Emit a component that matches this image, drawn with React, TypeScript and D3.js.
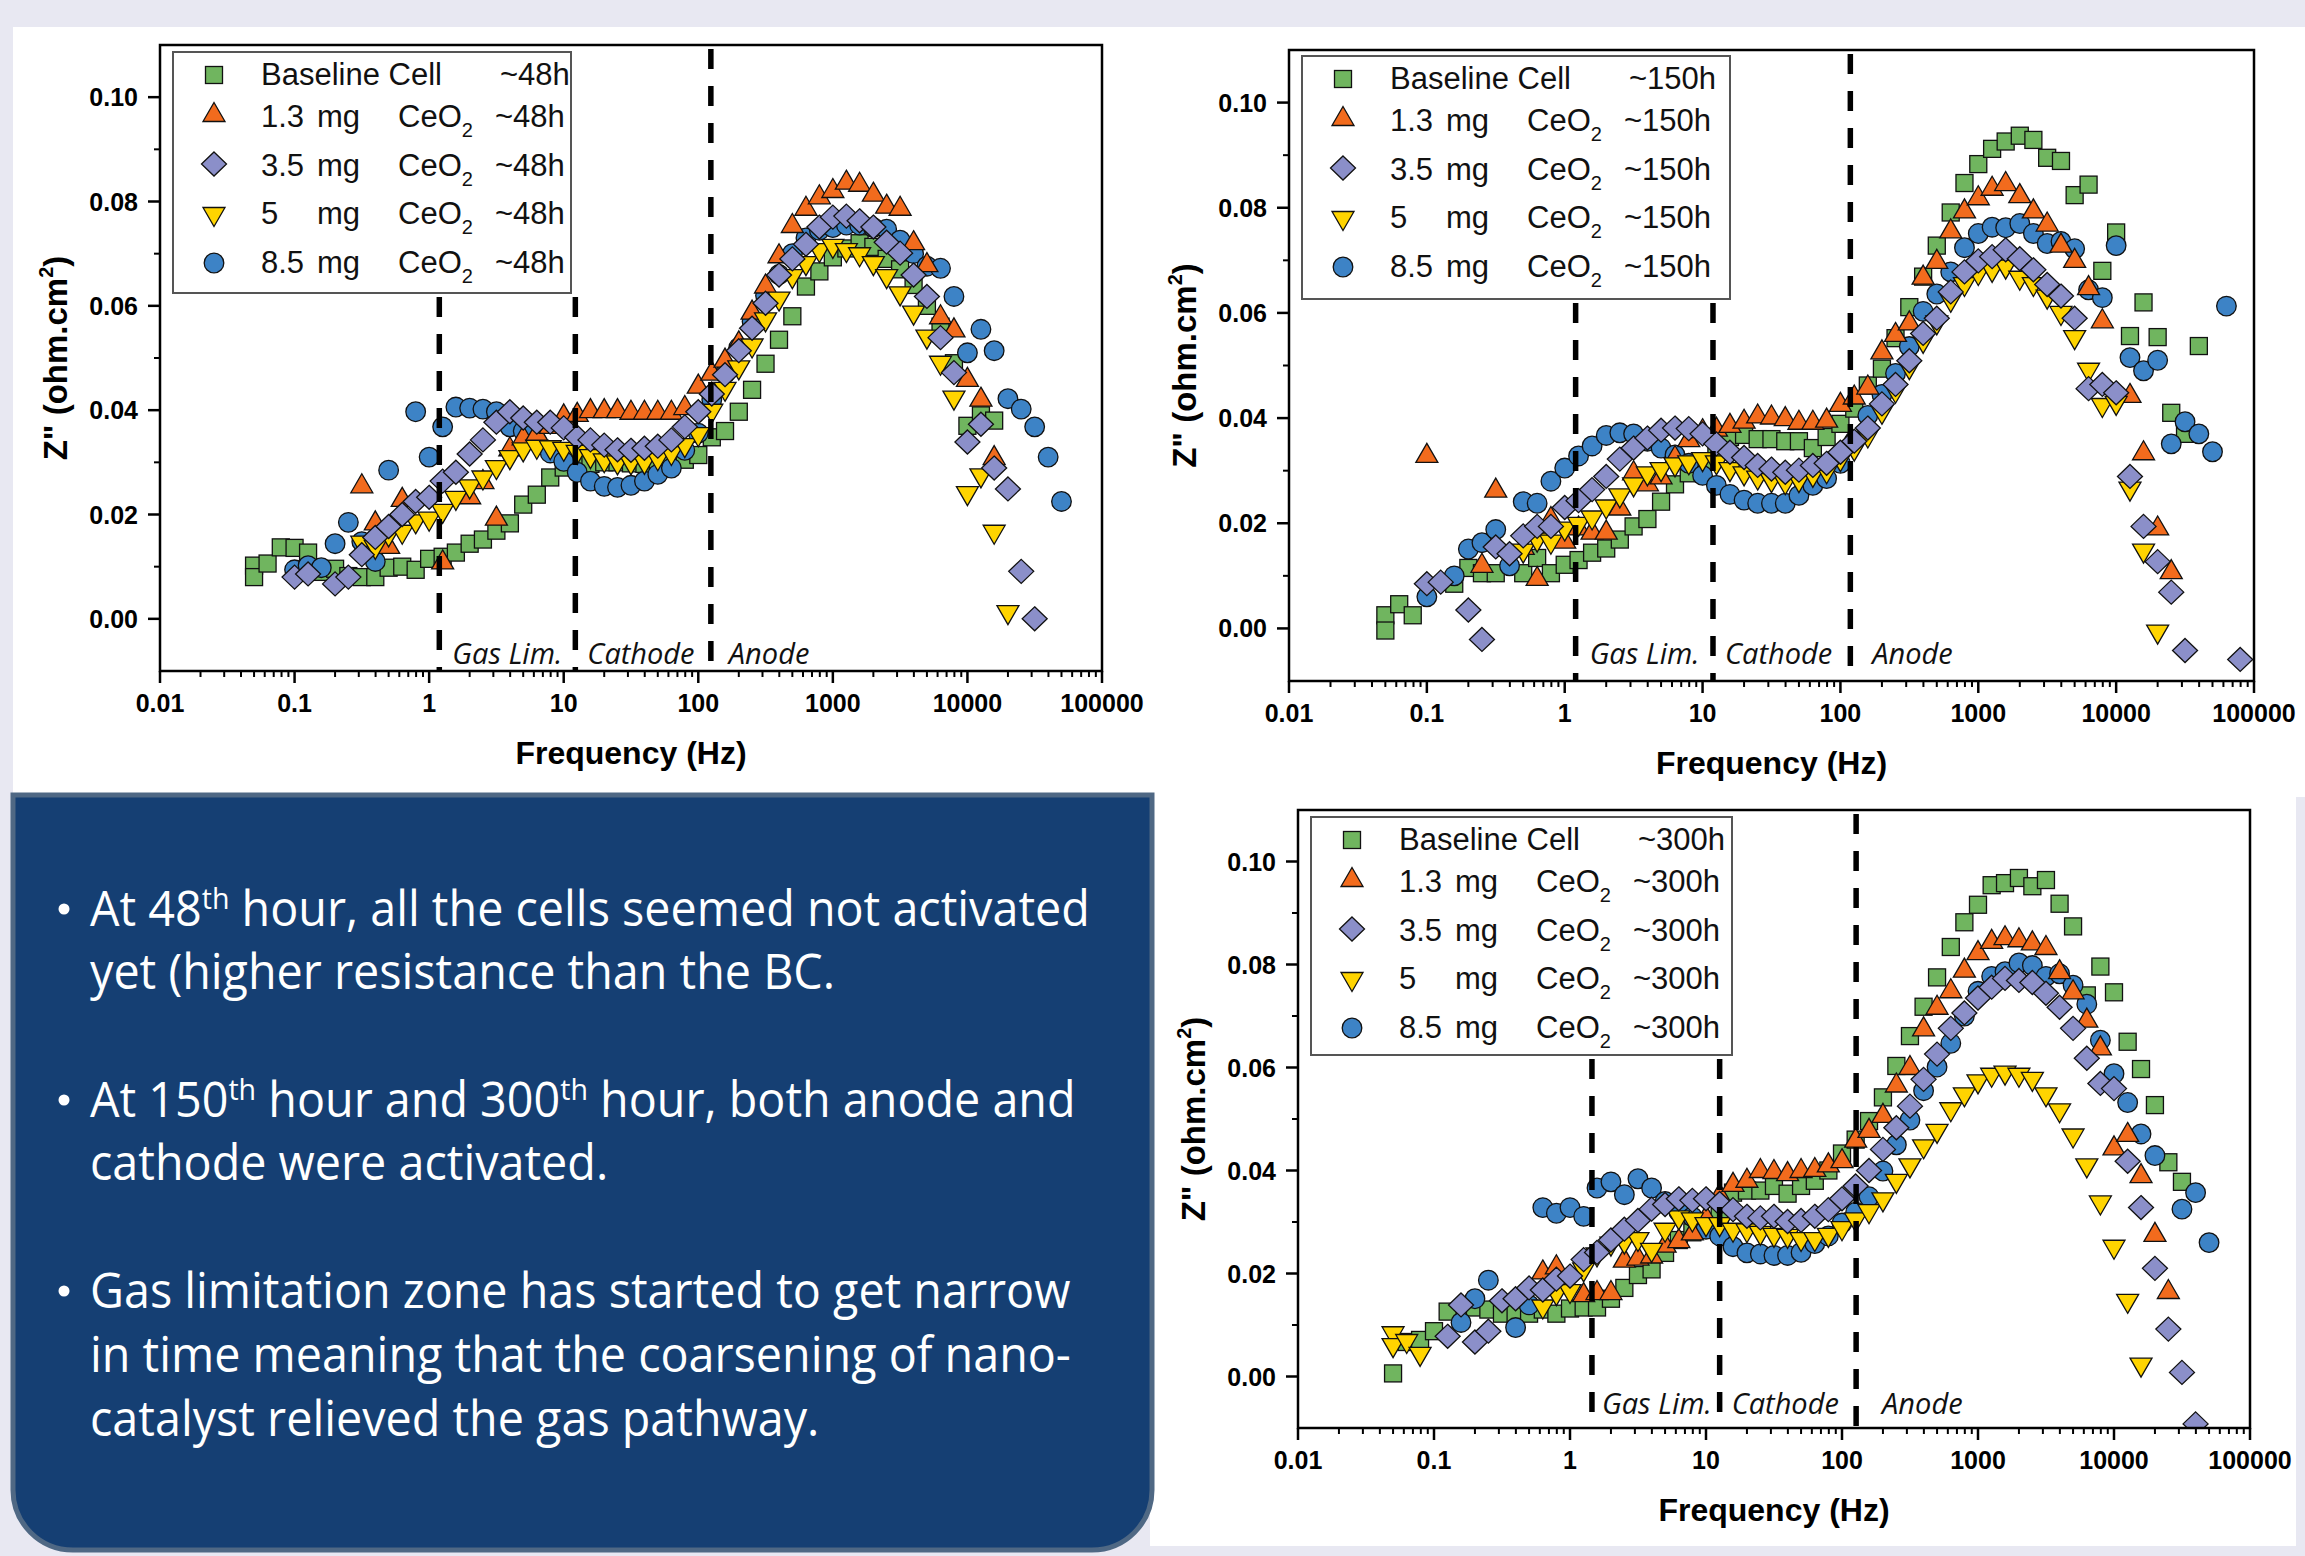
import React from 'react'
import * as d3 from 'd3'

type Pt = [number, number]

// axis ticks
const freqTicks = [0.01, 0.1, 1, 10, 100, 1000, 10000, 100000]
const freqTickLabels = ['0.01', '0.1', '1', '10', '100', '1000', '10000', '100000']
const zTicks = [0, 0.02, 0.04, 0.06, 0.08, 0.1]
const zTickLabels = ['0.00', '0.02', '0.04', '0.06', '0.08', '0.10']
const zMinorTicks = [0.01, 0.03, 0.05, 0.07, 0.09]

const cellLabels = ['Baseline Cell', '1.3', '3.5', '5', '8.5']
const zoneLabels = ['Gas Lim.', 'Cathode', 'Anode']

// zone boundaries (Hz)
const zones48 = [1.19, 12.2, 124]
const zones150 = [1.2, 11.9, 118]
const zones300 = [1.45, 12.6, 127]

// ~48h
const bc48: Pt[] = [[0.05,0.0102],[0.05,0.008],[0.063,0.0106],[0.079,0.0137],[0.1,0.0136],[0.126,0.0127],[0.158,0.009],[0.2,0.0096],[0.251,0.0082],[0.316,0.008],[0.398,0.008],[0.5,0.0098],[0.631,0.01],[0.794,0.0094],[1,0.0115],[1.26,0.0119],[1.58,0.0127],[2,0.0144],[2.51,0.0152],[3.16,0.0169],[3.98,0.0183],[5,0.0219],[6.31,0.0238],[7.94,0.0271],[10,0.029],[12.6,0.0295],[15.8,0.0297],[20,0.03],[25.1,0.03],[31.6,0.0298],[39.8,0.0297],[50,0.0298],[63.1,0.03],[79.4,0.0305],[100,0.0314],[126,0.0348],[158,0.036],[200,0.0397],[251,0.0439],[316,0.0489],[398,0.0535],[500,0.058],[631,0.0637],[794,0.0666],[1000,0.0693],[1260,0.071],[1580,0.072],[2000,0.0713],[2510,0.069],[3160,0.067],[3980,0.064],[5000,0.06],[6310,0.056],[7940,0.049],[10000,0.037],[12600,0.039],[15800,0.038]]
const m13_48: Pt[] = [[0.316,0.0256],[0.398,0.0185],[0.5,0.014],[0.631,0.023],[1.26,0.011],[2,0.0235],[2.51,0.0264],[3.16,0.0194],[3.98,0.0327],[5,0.0348],[6.31,0.0356],[7.94,0.037],[10,0.039],[12.6,0.0393],[15.8,0.04],[20,0.04],[25.1,0.04],[31.6,0.0397],[39.8,0.0397],[50,0.0397],[63.1,0.0397],[79.4,0.0406],[100,0.0447],[126,0.0472],[158,0.0497],[200,0.053],[251,0.0589],[316,0.0639],[398,0.0697],[500,0.0755],[631,0.0788],[794,0.081],[1000,0.0822],[1260,0.0838],[1580,0.0834],[2000,0.0815],[2510,0.0792],[3160,0.0788],[3980,0.0722],[5000,0.068],[6310,0.058],[7940,0.0555],[10000,0.046],[12600,0.0422],[15800,0.031]]
const m35_48: Pt[] = [[0.1,0.008],[0.126,0.0086],[0.2,0.0067],[0.251,0.008],[0.316,0.0123],[0.398,0.0156],[0.5,0.0177],[0.631,0.02],[0.794,0.0225],[1,0.0233],[1.26,0.0264],[1.58,0.0281],[2,0.0316],[2.51,0.0343],[3.16,0.0377],[3.98,0.0397],[5,0.0385],[6.31,0.0377],[7.94,0.0377],[10,0.0366],[12.6,0.0348],[15.8,0.0343],[20,0.0333],[25.1,0.0324],[31.6,0.0323],[39.8,0.0327],[50,0.0331],[63.1,0.0343],[79.4,0.0368],[100,0.0397],[126,0.0431],[158,0.0468],[200,0.0514],[251,0.0557],[316,0.0605],[398,0.0659],[500,0.069],[631,0.0718],[794,0.0751],[1000,0.077],[1260,0.0772],[1580,0.0763],[2000,0.0751],[2510,0.0722],[3160,0.0701],[3980,0.0659],[5000,0.0618],[6310,0.0539],[7940,0.0472],[10000,0.0339],[12600,0.0373],[15800,0.0289],[20000,0.0249],[25100,0.0091],[31600,0.0]]
const m5_48: Pt[] = [[0.316,0.0144],[0.398,0.0136],[0.5,0.016],[0.631,0.0165],[0.794,0.0185],[1,0.019],[1.26,0.0205],[1.58,0.023],[2,0.0252],[2.51,0.0269],[3.16,0.0289],[3.98,0.0308],[5,0.0323],[6.31,0.0328],[7.94,0.0327],[10,0.0324],[12.6,0.0318],[15.8,0.031],[20,0.0302],[25.1,0.0298],[31.6,0.0298],[39.8,0.0299],[50,0.0306],[63.1,0.0316],[79.4,0.0331],[100,0.0352],[126,0.0397],[158,0.0439],[200,0.048],[251,0.0522],[316,0.0572],[398,0.0612],[500,0.0655],[631,0.068],[794,0.0705],[1000,0.0713],[1260,0.0705],[1580,0.0697],[2000,0.068],[2510,0.0655],[3160,0.0622],[3980,0.0585],[5000,0.0539],[6310,0.0489],[7940,0.0422],[10000,0.0239],[12600,0.0273],[15800,0.0165],[20000,0.0011]]
const m85_48: Pt[] = [[0.1,0.0094],[0.126,0.0102],[0.158,0.0098],[0.2,0.0144],[0.251,0.0185],[0.316,0.0148],[0.398,0.011],[0.5,0.0285],[0.794,0.0397],[1,0.031],[1.26,0.0368],[1.58,0.0406],[2,0.0404],[2.51,0.0402],[3.16,0.0397],[3.98,0.0368],[5,0.036],[6.31,0.034],[7.94,0.0318],[10,0.0302],[12.6,0.0281],[15.8,0.0264],[20,0.0254],[25.1,0.0252],[31.6,0.0256],[39.8,0.0264],[50,0.0277],[63.1,0.0289],[79.4,0.0323],[100,0.0356],[126,0.042],[158,0.047],[200,0.052],[251,0.057],[316,0.062],[398,0.066],[500,0.07],[631,0.073],[794,0.0745],[1000,0.075],[1260,0.0755],[1580,0.0755],[2000,0.075],[2510,0.0747],[3160,0.0726],[3980,0.07],[5000,0.0676],[6310,0.0672],[7940,0.0618],[10000,0.051],[12600,0.0555],[15800,0.0514],[20000,0.0422],[25100,0.0402],[31600,0.0368],[39800,0.031],[50000,0.0225]]

// ~150h
const bc150: Pt[] = [[0.05,0.0025],[0.05,-0.0004],[0.063,0.0046],[0.079,0.0025],[0.158,0.0085],[0.2,0.0115],[0.251,0.0105],[0.316,0.0105],[0.5,0.0105],[0.631,0.0134],[0.794,0.0105],[1,0.0121],[1.26,0.013],[1.58,0.0144],[2,0.0152],[2.51,0.0169],[3.16,0.0194],[3.98,0.0208],[5,0.0241],[6.31,0.0274],[7.94,0.0295],[10,0.031],[12.6,0.034],[15.8,0.0364],[20,0.0368],[25.1,0.036],[31.6,0.036],[39.8,0.0356],[50,0.0356],[63.1,0.0343],[79.4,0.0364],[100,0.0389],[126,0.0418],[158,0.0462],[200,0.0494],[251,0.0552],[316,0.0611],[398,0.0669],[500,0.0728],[631,0.0791],[794,0.0847],[1000,0.0883],[1260,0.0912],[1580,0.0926],[2000,0.0937],[2510,0.0929],[3160,0.0895],[3980,0.0889],[5000,0.0824],[6310,0.0844],[7940,0.068],[10000,0.0753],[12600,0.0556],[15800,0.062],[20000,0.0554],[25100,0.041],[31600,0.037],[39800,0.0537]]
const m13_150: Pt[] = [[0.1,0.033],[0.251,0.0121],[0.316,0.0264],[0.5,0.0155],[0.631,0.0096],[0.794,0.021],[1,0.0167],[1.26,0.0192],[1.58,0.0184],[2,0.0184],[2.51,0.023],[3.16,0.0297],[3.98,0.0276],[5,0.0289],[6.31,0.0326],[7.94,0.036],[10,0.0377],[12.6,0.038],[15.8,0.0387],[20,0.0395],[25.1,0.0405],[31.6,0.0403],[39.8,0.04],[50,0.0393],[63.1,0.0393],[79.4,0.0397],[100,0.0427],[126,0.0441],[158,0.046],[200,0.0527],[251,0.056],[316,0.0582],[398,0.0669],[500,0.0699],[631,0.0757],[794,0.0795],[1000,0.082],[1260,0.0838],[1580,0.0847],[2000,0.0824],[2510,0.0795],[3160,0.077],[3980,0.073],[5000,0.0701],[6310,0.0649],[7940,0.0586],[12600,0.0444],[15800,0.0335],[20000,0.0192],[25100,0.0109]]
const m35_150: Pt[] = [[0.1,0.0085],[0.126,0.0088],[0.2,0.0035],[0.251,-0.0021],[0.316,0.0155],[0.398,0.0142],[0.5,0.0176],[0.631,0.0194],[0.794,0.0194],[1,0.023],[1.26,0.0243],[1.58,0.0264],[2,0.0289],[2.51,0.0322],[3.16,0.0343],[3.98,0.0362],[5,0.0377],[6.31,0.0381],[7.94,0.038],[10,0.037],[12.6,0.0351],[15.8,0.0335],[20,0.0325],[25.1,0.031],[31.6,0.0303],[39.8,0.0297],[50,0.0301],[63.1,0.031],[79.4,0.0314],[100,0.0335],[126,0.0356],[158,0.0381],[200,0.0427],[251,0.0464],[316,0.0509],[398,0.0561],[500,0.059],[631,0.064],[794,0.0678],[1000,0.0699],[1260,0.0707],[1580,0.072],[2000,0.0703],[2510,0.0682],[3160,0.0654],[3980,0.0632],[5000,0.059],[6310,0.0456],[7940,0.0464],[10000,0.0448],[12600,0.0289],[15800,0.0194],[20000,0.0127],[25100,0.0069],[31600,-0.0042],[79400,-0.0059]]
const m5_150: Pt[] = [[0.5,0.0146],[0.631,0.0167],[0.794,0.0163],[1,0.0188],[1.26,0.0197],[1.58,0.0209],[2,0.023],[2.51,0.0251],[3.16,0.0272],[3.98,0.0293],[5,0.0301],[6.31,0.031],[7.94,0.0314],[10,0.032],[12.6,0.0314],[15.8,0.0301],[20,0.0293],[25.1,0.0285],[31.6,0.028],[39.8,0.0276],[50,0.028],[63.1,0.029],[79.4,0.0297],[100,0.032],[126,0.034],[158,0.0365],[200,0.041],[251,0.045],[316,0.0495],[398,0.0545],[500,0.058],[631,0.0623],[794,0.0653],[1000,0.0674],[1260,0.068],[1580,0.0686],[2000,0.0665],[2510,0.0653],[3160,0.0629],[3980,0.0598],[5000,0.0552],[6310,0.049],[7940,0.0423],[10000,0.0427],[12600,0.0264],[15800,0.0146],[20000,-0.0008]]
const m85_150: Pt[] = [[0.1,0.006],[0.158,0.01],[0.2,0.0151],[0.251,0.0163],[0.316,0.0188],[0.398,0.0119],[0.5,0.0241],[0.631,0.0238],[0.794,0.028],[1,0.0305],[1.26,0.0328],[1.58,0.0347],[2,0.0367],[2.51,0.0372],[3.16,0.037],[3.98,0.0356],[5,0.0343],[6.31,0.033],[7.94,0.0314],[10,0.0291],[12.6,0.0272],[15.8,0.0255],[20,0.0244],[25.1,0.0238],[31.6,0.0238],[39.8,0.0238],[50,0.0253],[63.1,0.0272],[79.4,0.0285],[100,0.0314],[126,0.0356],[158,0.0405],[200,0.0445],[251,0.0485],[316,0.0536],[398,0.0603],[500,0.0636],[631,0.0678],[794,0.0724],[1000,0.0751],[1260,0.0763],[1580,0.0762],[2000,0.077],[2510,0.0751],[3160,0.0732],[3980,0.0736],[5000,0.0722],[6310,0.0644],[7940,0.0629],[10000,0.0728],[12600,0.0515],[15800,0.049],[20000,0.051],[25100,0.0351],[31600,0.0393],[39800,0.037],[50000,0.0336],[63100,0.0613]]

// ~300h
const bc300: Pt[] = [[0.05,0.0006],[0.063,0.0067],[0.079,0.0071],[0.1,0.0088],[0.126,0.0126],[0.2,0.0134],[0.251,0.013],[0.316,0.0122],[0.398,0.0122],[0.5,0.0122],[0.631,0.013],[0.794,0.0122],[1,0.0132],[1.26,0.0134],[1.58,0.0134],[2,0.0151],[2.51,0.0172],[3.16,0.0197],[3.98,0.0208],[5,0.024],[6.31,0.0265],[7.94,0.028],[10,0.029],[12.6,0.031],[15.8,0.0357],[20,0.0361],[25.1,0.0361],[31.6,0.037],[39.8,0.0355],[50,0.037],[63.1,0.038],[79.4,0.04],[100,0.0433],[126,0.046],[158,0.0496],[200,0.0542],[251,0.0603],[316,0.0661],[398,0.0718],[500,0.0775],[631,0.0834],[794,0.0882],[1000,0.0916],[1260,0.0954],[1580,0.0958],[2000,0.0968],[2510,0.0952],[3160,0.0964],[3980,0.0918],[5000,0.0874],[6310,0.074],[7940,0.0796],[10000,0.0746],[12600,0.065],[15800,0.0597],[20000,0.0527],[25100,0.0416],[31600,0.0378]]
const m13_300: Pt[] = [[0.631,0.0204],[0.794,0.0214],[1.26,0.016],[1.58,0.0164],[2,0.0164],[2.51,0.0227],[3.16,0.0231],[3.98,0.0235],[5,0.0256],[6.31,0.0265],[7.94,0.028],[10,0.031],[12.6,0.0353],[15.8,0.0374],[20,0.0382],[25.1,0.0401],[31.6,0.0399],[39.8,0.0395],[50,0.0401],[63.1,0.0403],[79.4,0.0412],[100,0.042],[126,0.046],[158,0.0479],[200,0.0508],[251,0.0567],[316,0.0601],[398,0.0676],[500,0.0718],[631,0.075],[794,0.079],[1000,0.0824],[1260,0.0846],[1580,0.0853],[2000,0.0849],[2510,0.0843],[3160,0.0834],[3980,0.0787],[5000,0.0748],[6310,0.0693],[7940,0.0639],[10000,0.0445],[12600,0.0471],[15800,0.0391],[20000,0.0277],[25100,0.0166]]
const m35_300: Pt[] = [[0.126,0.0078],[0.158,0.0139],[0.2,0.0067],[0.251,0.0088],[0.316,0.0147],[0.398,0.0151],[0.5,0.0172],[0.631,0.0168],[0.794,0.0189],[1,0.0195],[1.26,0.0227],[1.58,0.0241],[2,0.0265],[2.51,0.0286],[3.16,0.0303],[3.98,0.0325],[5,0.0334],[6.31,0.0345],[7.94,0.0342],[10,0.0345],[12.6,0.0336],[15.8,0.0324],[20,0.0311],[25.1,0.0308],[31.6,0.0311],[39.8,0.0301],[50,0.0303],[63.1,0.0311],[79.4,0.0324],[100,0.0345],[126,0.037],[158,0.04],[200,0.0441],[251,0.0483],[316,0.0525],[398,0.0577],[500,0.0626],[631,0.0676],[794,0.0706],[1000,0.0735],[1260,0.0756],[1580,0.0773],[2000,0.0769],[2510,0.0765],[3160,0.0744],[3980,0.0717],[5000,0.0676],[6310,0.0618],[7940,0.0569],[10000,0.0559],[12600,0.0418],[15800,0.0328],[20000,0.021],[25100,0.0092],[31600,0.0008],[39800,-0.0092]]
const m5_300: Pt[] = [[0.05,0.0082],[0.05,0.0059],[0.063,0.0067],[0.079,0.0042],[0.631,0.0134],[0.794,0.016],[1,0.0164],[1.26,0.0206],[1.58,0.0235],[2,0.0256],[2.51,0.026],[3.16,0.0265],[3.98,0.0244],[5,0.0283],[6.31,0.0307],[7.94,0.0303],[10,0.0294],[12.6,0.0294],[15.8,0.0283],[20,0.0282],[25.1,0.0277],[31.6,0.0273],[39.8,0.0271],[50,0.0265],[63.1,0.0265],[79.4,0.0273],[100,0.0286],[126,0.0303],[158,0.0319],[200,0.0342],[251,0.0378],[316,0.0408],[398,0.0445],[500,0.0475],[631,0.0517],[794,0.0546],[1000,0.0571],[1260,0.0584],[1580,0.0588],[2000,0.0584],[2510,0.0576],[3160,0.0546],[3980,0.0515],[5000,0.0466],[6310,0.0408],[7940,0.0336],[10000,0.025],[12600,0.0145],[15800,0.0021]]
const m85_300: Pt[] = [[0.158,0.0105],[0.2,0.0151],[0.251,0.0187],[0.398,0.0095],[0.5,0.0139],[0.631,0.0328],[0.794,0.0317],[1,0.0328],[1.26,0.0311],[1.58,0.0366],[2,0.0378],[2.51,0.0353],[3.16,0.0384],[3.98,0.0366],[5,0.034],[6.31,0.032],[7.94,0.031],[10,0.0286],[12.6,0.0273],[15.8,0.0252],[20,0.024],[25.1,0.0238],[31.6,0.0235],[39.8,0.0235],[50,0.0241],[63.1,0.0258],[79.4,0.0273],[100,0.0298],[126,0.0319],[158,0.0349],[200,0.0399],[251,0.045],[316,0.0498],[398,0.0555],[500,0.0601],[631,0.0647],[794,0.07],[1000,0.0748],[1260,0.0777],[1580,0.0786],[2000,0.0803],[2510,0.0798],[3160,0.0777],[3980,0.0782],[5000,0.076],[6310,0.0723],[7940,0.0653],[10000,0.0588],[12600,0.0532],[15800,0.0471],[20000,0.0429],[31600,0.0325],[39800,0.0357],[50000,0.026]]

const shapes = ['square', 'triangle', 'diamond', 'triangleDown', 'circle']
const fills = ['#70b55f', '#f26b1d', '#8b8fc9', '#ffd400', '#3d83c6']
const drawOrder = [0, 4, 1, 3, 2]

const panels = [
  { id: 'p48', hours: '~48h', zones: zones48, series: [bc48, m13_48, m35_48, m5_48, m85_48],
    left: 160, right: 1102, top: 45, bottom: 671, zoneDx: [13, 12, 18], zoneDy: 7,
    legend: { x: 173, y: 52, w: 398, h: 241 } },
  { id: 'p150', hours: '~150h', zones: zones150, series: [bc150, m13_150, m35_150, m5_150, m85_150],
    left: 1289, right: 2254, top: 50, bottom: 681, zoneDx: [14, 12, 22], zoneDy: 17,
    legend: { x: 1302, y: 56, w: 428, h: 243 } },
  { id: 'p300', hours: '~300h', zones: zones300, series: [bc300, m13_300, m35_300, m5_300, m85_300],
    left: 1298, right: 2250, top: 810, bottom: 1428, zoneDx: [10, 12, 26], zoneDy: 14,
    legend: { x: 1311, y: 817, w: 421, h: 238 } },
]

const legSymY = [23, 62, 112, 163, 211]
const legBaseY = [33, 75, 124, 172, 221]

function Marker({ shape, x, y, fill }: { shape: string; x: number; y: number; fill: string }) {
  const st = { fill, stroke: '#111', strokeWidth: 1.3 }
  if (shape === 'square') return <rect x={x - 8.5} y={y - 8.5} width={17} height={17} {...st} />
  if (shape === 'triangle') return <path d={`M${x},${y - 11.5}L${x + 11},${y + 7.5}L${x - 11},${y + 7.5}Z`} {...st} />
  if (shape === 'triangleDown') return <path d={`M${x},${y + 11.5}L${x + 11},${y - 7.5}L${x - 11},${y - 7.5}Z`} {...st} />
  if (shape === 'diamond') return <path d={`M${x},${y - 12}L${x + 12.5},${y}L${x},${y + 12}L${x - 12.5},${y}Z`} {...st} />
  return <circle cx={x} cy={y} r={9.8} {...st} />
}

function Panel({ p }: { p: any }) {
  const x = d3.scaleLog().domain([0.01, 100000]).range([p.left, p.right])
  const y = d3.scaleLinear().domain([-0.01, 0.11]).range([p.bottom, p.top])
  const minorX: number[] = []
  freqTicks.slice(0, -1).forEach(d => { for (let k = 2; k < 10; k++) minorX.push(d * k) })
  const L = p.legend
  const cx = (p.left + p.right) / 2
  const cy = (p.top + p.bottom) / 2

  return (
    <g>
      <defs>
        <clipPath id={`clip-${p.id}`}>
          <rect x={p.left} y={p.top} width={p.right - p.left} height={p.bottom - p.top} />
        </clipPath>
      </defs>

      <g clipPath={`url(#clip-${p.id})`}>
        {drawOrder.map(si => (
          <g key={si}>
            {p.series[si].map((d: Pt, j: number) => (
              <Marker key={j} shape={shapes[si]} x={x(d[0])} y={y(d[1])} fill={fills[si]} />
            ))}
          </g>
        ))}
      </g>

      {/* zone boundaries: the first two start under the legend */}
      {p.zones.map((f: number, i: number) => (
        <line key={i} x1={x(f)} x2={x(f)} y1={i < 2 ? L.y + L.h + 4 : p.top + 4} y2={p.bottom}
          stroke="#000" strokeWidth={5.5} strokeDasharray="20 17" />
      ))}
      {zoneLabels.map((t, i) => (
        <text key={t} x={x(p.zones[i]) + p.zoneDx[i]} y={p.bottom - p.zoneDy}
          fontFamily="'Open Sans', sans-serif" fontStyle="italic" fontSize={29} fill="#111">{t}</text>
      ))}

      {/* legend */}
      <rect x={L.x} y={L.y} width={L.w} height={L.h} fill="#fff" stroke="#555" strokeWidth={2} />
      {cellLabels.map((c, i) => (
        <g key={c} fontSize={31} fill="#111">
          <Marker shape={shapes[i]} x={L.x + 41} y={L.y + legSymY[i]} fill={fills[i]} />
          <text x={L.x + 88} y={L.y + legBaseY[i]}>{c}</text>
          {i > 0 && <text x={L.x + 144} y={L.y + legBaseY[i]}>mg</text>}
          {i > 0 && (
            <text x={L.x + 225} y={L.y + legBaseY[i]}>CeO<tspan fontSize={20} dy={10}>2</tspan></text>
          )}
          <text x={L.x + (i === 0 ? 327 : 322)} y={L.y + legBaseY[i]}>{p.hours}</text>
        </g>
      ))}

      {/* frame */}
      <rect x={p.left} y={p.top} width={p.right - p.left} height={p.bottom - p.top}
        fill="none" stroke="#000" strokeWidth={2.5} />

      {/* x ticks */}
      {minorX.map((v, i) => (
        <line key={i} x1={x(v)} x2={x(v)} y1={p.bottom} y2={p.bottom + 6} stroke="#000" strokeWidth={2} />
      ))}
      {freqTicks.map((v, i) => (
        <g key={v}>
          <line x1={x(v)} x2={x(v)} y1={p.bottom} y2={p.bottom + 12} stroke="#000" strokeWidth={2.5} />
          <text x={x(v)} y={p.bottom + 41} textAnchor="middle" fontSize={25} fontWeight="bold">{freqTickLabels[i]}</text>
        </g>
      ))}

      {/* y ticks */}
      {zMinorTicks.map(v => (
        <line key={v} x1={p.left - 6} x2={p.left} y1={y(v)} y2={y(v)} stroke="#000" strokeWidth={2} />
      ))}
      {zTicks.map((v, i) => (
        <g key={v}>
          <line x1={p.left - 12} x2={p.left} y1={y(v)} y2={y(v)} stroke="#000" strokeWidth={2.5} />
          <text x={p.left - 22} y={y(v) + 9} textAnchor="end" fontSize={25} fontWeight="bold">{zTickLabels[i]}</text>
        </g>
      ))}

      <text x={cx} y={p.bottom + 93} textAnchor="middle" fontSize={32} fontWeight="bold">Frequency (Hz)</text>
      <text transform={`translate(${p.left - 93},${cy}) rotate(-90)`} textAnchor="middle"
        fontSize={33} fontWeight="bold">
        Z" (ohm.cm<tspan fontSize={20} dy={-14}>2</tspan><tspan dy={14}>)</tspan>
      </text>
    </g>
  )
}

const bulletLines = [
  { y: 926, bullet: true, parts: [['At 48', 0], ['th', 1], [' hour, all the cells seemed not activated', 0]] },
  { y: 989, bullet: false, parts: [['yet (higher resistance than the BC.', 0]] },
  { y: 1117, bullet: true, parts: [['At 150', 0], ['th', 1], [' hour and 300', 0], ['th', 1], [' hour, both anode and', 0]] },
  { y: 1180, bullet: false, parts: [['cathode were activated.', 0]] },
  { y: 1308, bullet: true, parts: [['Gas limitation zone has started to get narrow', 0]] },
  { y: 1372, bullet: false, parts: [['in time meaning that the coarsening of nano-', 0]] },
  { y: 1436, bullet: false, parts: [['catalyst relieved the gas pathway.', 0]] },
]

function NoteBox() {
  const x0 = 13, y0 = 795, x1 = 1152, y1 = 1550, r = 60
  const d = `M${x0},${y0}H${x1}V${y1 - r}A${r},${r} 0 0 1 ${x1 - r},${y1}H${x0 + r}A${r},${r} 0 0 1 ${x0},${y1 - r}Z`
  return (
    <g>
      <path d={d} fill="#153f73" stroke="#4f6884" strokeWidth={5} />
      {bulletLines.map((ln, i) => (
        <g key={i}>
          {ln.bullet && <circle cx={64} cy={ln.y - 17} r={5.5} fill="#fff" />}
          <g transform={`translate(90,${ln.y}) scale(0.953,1)`}>
            <text x={0} y={0} fontFamily="'Open Sans', sans-serif" fontSize={49} fill="#fff">
              {ln.parts.map((pt, k) => {
                const sup = pt[1] === 1
                const prevSup = k > 0 && ln.parts[k - 1][1] === 1
                return (
                  <tspan key={k} fontSize={sup ? 30 : 49} dy={sup ? -17 : prevSup ? 17 : 0}>{pt[0]}</tspan>
                )
              })}
            </text>
          </g>
        </g>
      ))}
    </g>
  )
}

export default function App() {
  return (
    <div style={{ position: 'absolute', left: 0, top: 0 }}>
      <svg width={2305} height={1556} style={{ display: 'block' }}
        fontFamily="'Liberation Sans', Arial, sans-serif">
        <rect width={2305} height={1556} fill="#e8e8f2" />
        <rect x={13} y={27} width={2292} height={770} fill="#fff" />
        <rect x={1150} y={790} width={1146} height={756} fill="#fff" />
        {panels.map(p => <Panel key={p.id} p={p} />)}
        <NoteBox />
      </svg>
    </div>
  )
}
